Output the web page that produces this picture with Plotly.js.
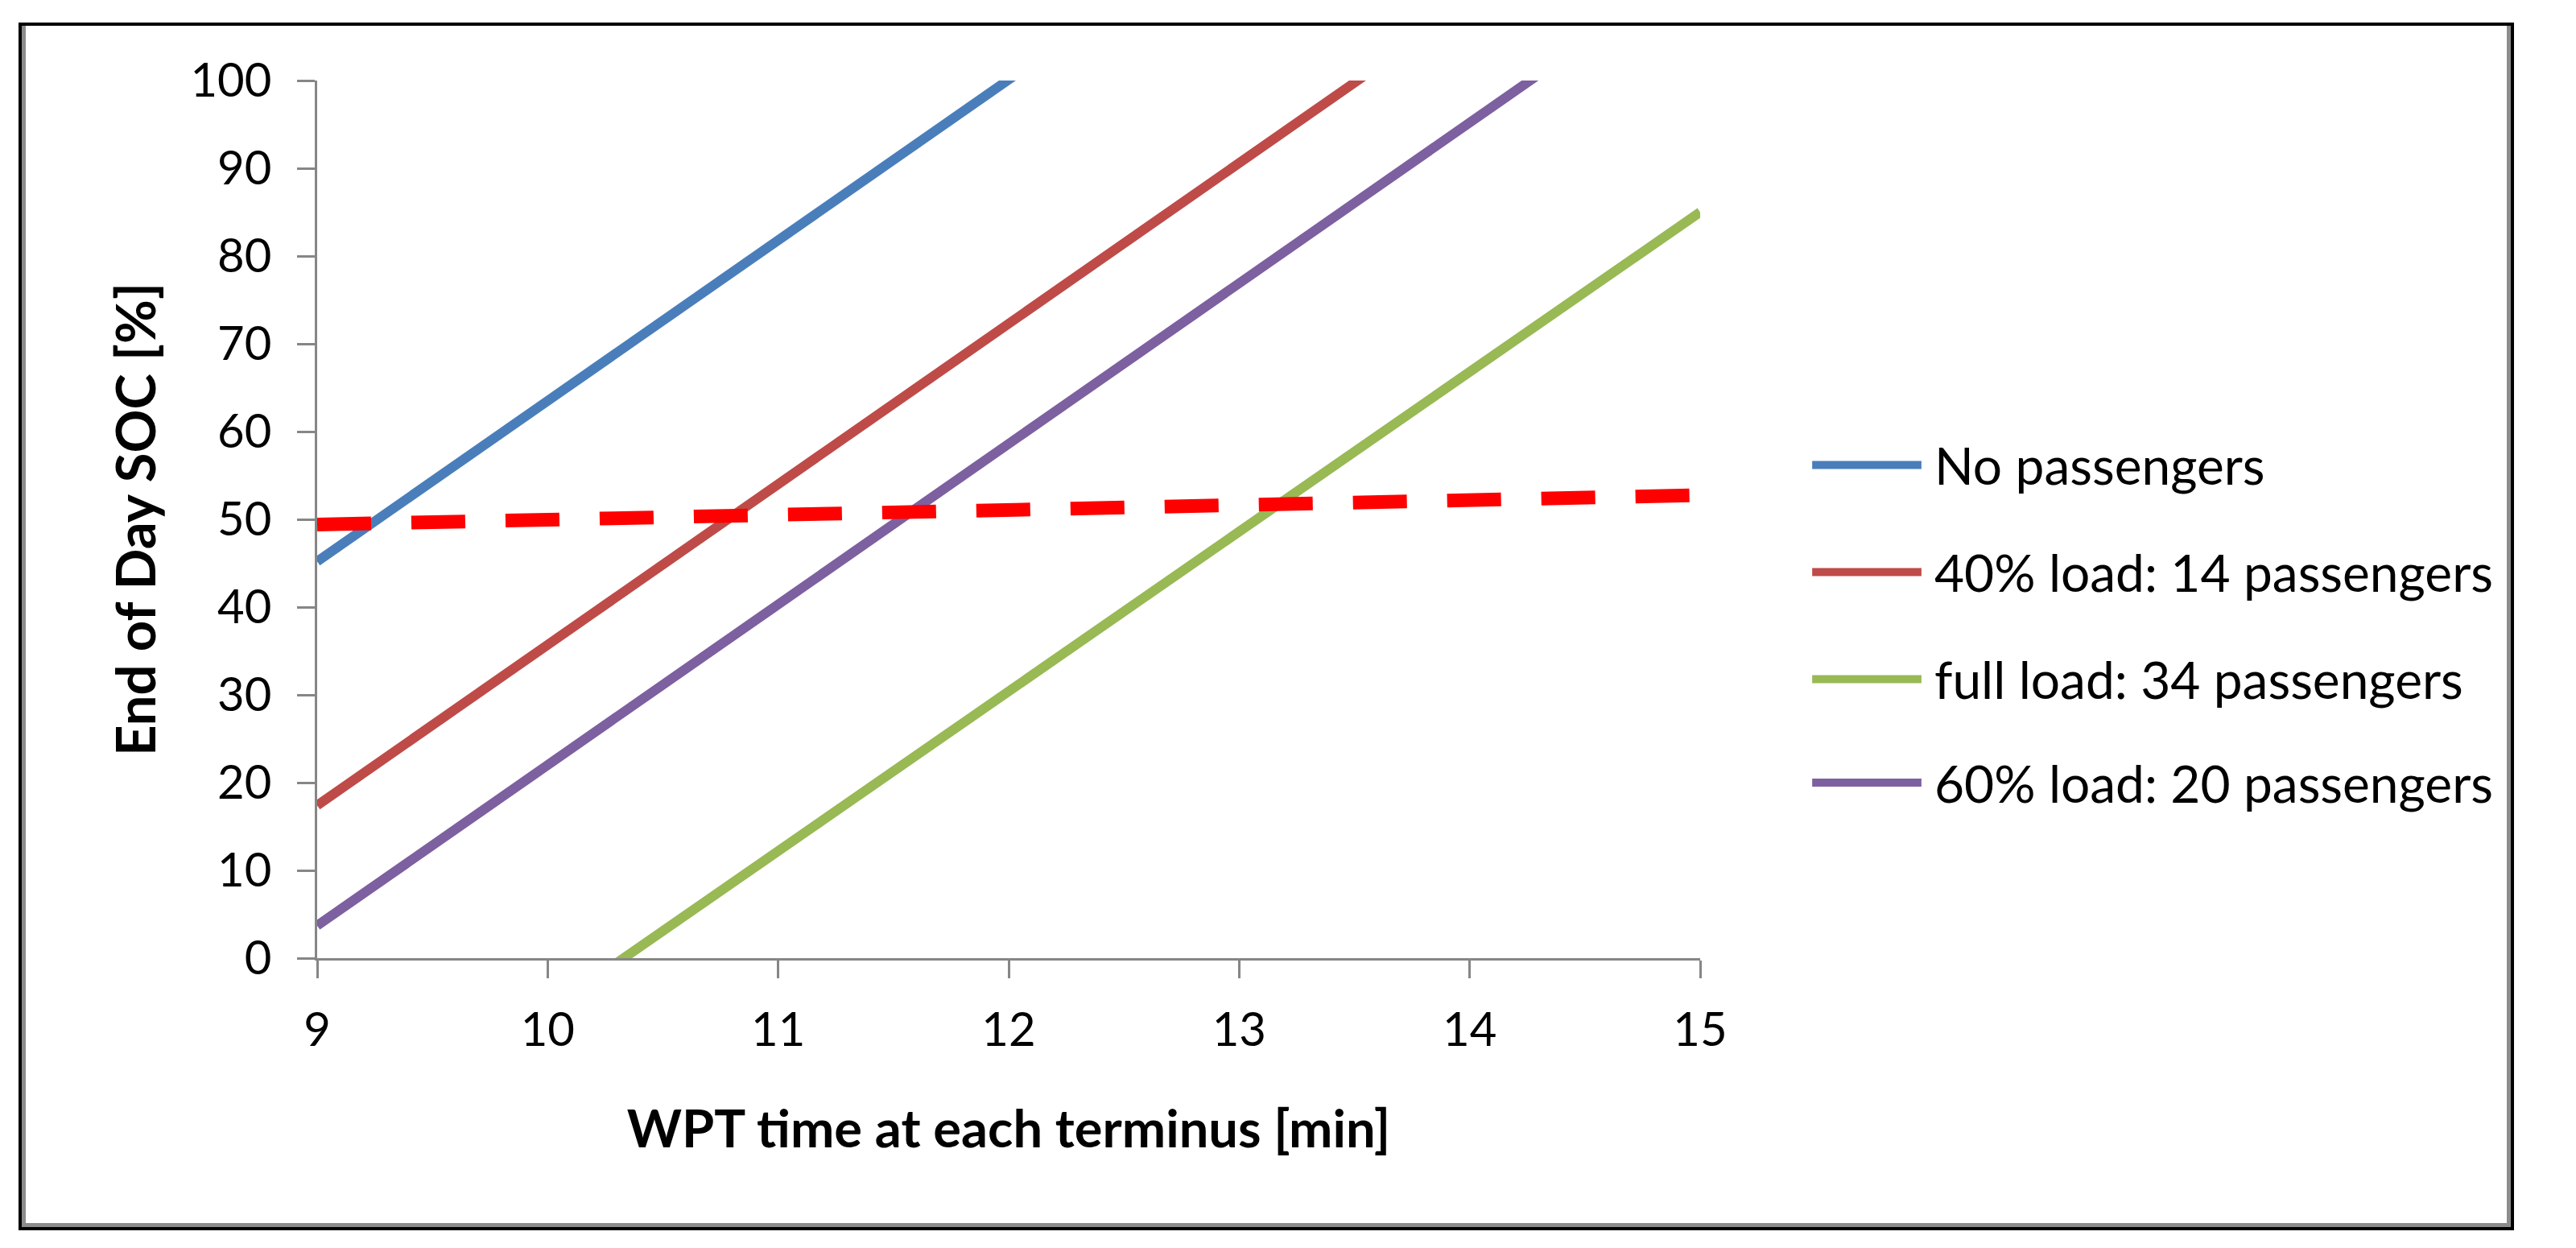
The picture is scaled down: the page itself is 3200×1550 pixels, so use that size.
<!DOCTYPE html>
<html>
<head>
<meta charset="utf-8">
<script src="https://cdn.plot.ly/plotly-3.0.1.min.js"></script>
<style>
html,body{margin:0;padding:0;background:#fff;}
#wrap{position:relative;width:3200px;height:1550px;overflow:hidden;}
#chart{position:absolute;left:0;top:0;width:3200px;height:1550px;}
#frame{position:absolute;left:23px;top:28px;width:3100px;height:1500px;box-sizing:border-box;border:4px solid #000;box-shadow:inset 5px 0 0 #8c8c8c, inset -5px -5px 0 #8c8c8c;pointer-events:none;}
</style>
</head>
<body>
<div id="wrap"><div id="chart"></div><div id="frame"></div></div>
<script>
// WPT time at each terminus [min]
const minutes = [9, 10, 11, 12, 13, 14, 15];

// End of Day SOC [%] per load case
const noPassengers   = [45.2, 63.5, 81.8, 100.1, 118.4, 136.7, 155.0];
const load40         = [17.4, 35.7, 54.0, 72.3, 90.6, 108.9, 127.2];
const fullLoad       = [-24.2, -6.0, 12.2, 30.4, 48.6, 66.8, 85.0];
const load60         = [3.7, 22.0, 40.3, 58.6, 76.9, 95.2, 113.5];
const socLimit       = [49.4, 50.0, 50.6, 51.2, 51.7, 52.2, 52.75];

const seriesNames = ["No passengers", "40% load: 14 passengers", "full load: 34 passengers", "60% load: 20 passengers"];
const seriesData  = [noPassengers, load40, fullLoad, load60];
const seriesColors = ["#4A7EBB", "#BE4B48", "#98B954", "#7D60A0"];

const xTitle = "WPT time at each terminus [min]";
const yTitle = "End of Day SOC [%]";

const FONT = "Lato, 'Open Sans', sans-serif";
const FS = 64;
const TICKFS = 58;

const traces = seriesData.map((vals, i) => ({
  x: minutes, y: vals, type: "scatter", mode: "lines",
  name: seriesNames[i], showlegend: false,
  line: {color: seriesColors[i], width: 12}
}));
traces.push({
  x: minutes, y: socLimit, type: "scatter", mode: "lines",
  name: "SOC limit", showlegend: false,
  line: {color: "#FF0000", width: 17, dash: "67px,50px"}
});

// manual legend (long line samples, as in the original)
const legendY = [0.562, 0.440, 0.318, 0.200];
const shapes = [];
const annotations = [];
seriesNames.forEach((nm, i) => {
  shapes.push({type: "line", xref: "paper", yref: "paper",
    x0: 1.081, x1: 1.160, y0: legendY[i], y1: legendY[i],
    line: {color: seriesColors[i], width: 10}});
  annotations.push({xref: "paper", yref: "paper", x: 1.168, y: legendY[i],
    xanchor: "left", yanchor: "middle", showarrow: false, text: nm,
    font: {family: FONT, size: FS, color: "#000"}});
});

const axisCommon = {
  showgrid: false, zeroline: false, showline: true,
  linecolor: "#868686", linewidth: 3,
  ticks: "outside", ticklen: 22, tickwidth: 3, tickcolor: "#868686",
  tickfont: {family: FONT, size: TICKFS, color: "#000"}
};

const layout = {
  width: 3200, height: 1550,
  margin: {l: 394, r: 1088, t: 100, b: 360},
  paper_bgcolor: "#fff", plot_bgcolor: "#fff",
  showlegend: false,
  xaxis: Object.assign({}, axisCommon, {
    range: [9, 15], dtick: 1, tick0: 9, ticklabelstandoff: 14,
    title: {text: "<b>" + xTitle + "</b>", font: {family: FONT, size: 65, color: "#000"}, standoff: 70}
  }),
  yaxis: Object.assign({}, axisCommon, {
    range: [0, 100], dtick: 10, tick0: 0, ticklabelstandoff: 20,
    title: {text: "<b>" + yTitle + "</b>", font: {family: FONT, size: 67, color: "#000"}, standoff: 22}
  }),
  shapes: shapes,
  annotations: annotations
};

Plotly.newPlot("chart", traces, layout, {staticPlot: true, displayModeBar: false});
</script>
</body>
</html>
